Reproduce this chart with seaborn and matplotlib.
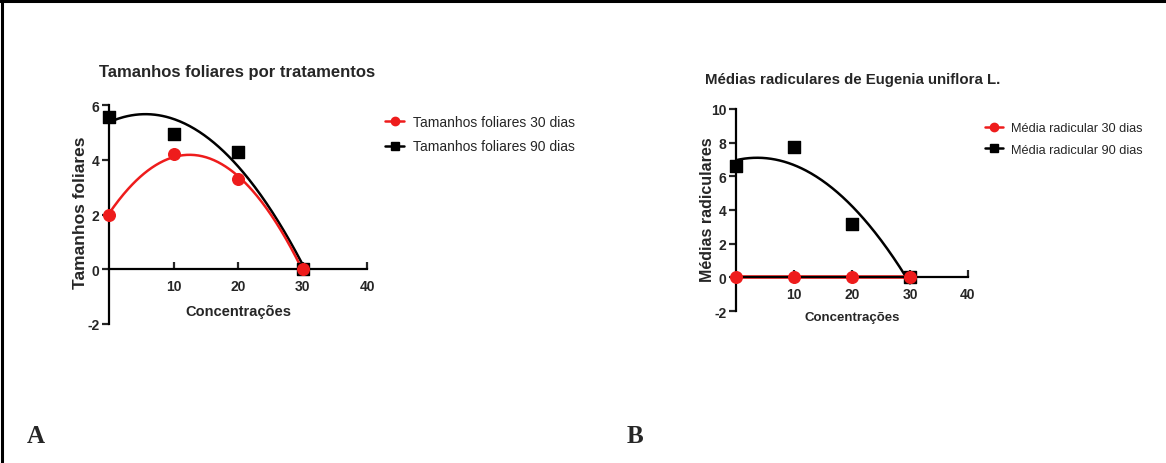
import numpy as np
import pandas as pd
import matplotlib
matplotlib.use("Agg")
import matplotlib.pyplot as plt
from matplotlib.lines import Line2D
import seaborn as sns

# dados
conc = [0, 10, 20, 30]
folha_30 = [2.0, 4.2, 3.3, 0.0]
folha_90 = [5.55, 4.95, 4.3, 0.0]
raiz_30 = [0.0, 0.0, 0.0, 0.0]
raiz_90 = [6.6, 7.75, 3.15, 0.0]

sns.set_style("white")
plt.rcParams["font.family"] = ["Liberation Sans", "DejaVu Sans"]
plt.rcParams["axes.unicode_minus"] = False

VERM = "#ee1c1c"
PRETO = "#000000"

fig = plt.figure(figsize=(11.66, 4.64), dpi=100)
W, H = 1166, 464


def eixo(l, r, t, b):
    return fig.add_axes([l / W, (H - b) / H, (r - l) / W, (b - t) / H])


def ajuste(x, y):
    # curva polinomial de 2o grau (como no Prism)
    c = np.polyfit(x, y, 2)
    xs = np.linspace(0, 30, 200)
    return pd.DataFrame({"x": xs, "y": np.polyval(c, xs)})


def painel(ax, y30, y90, ymin, ymax, ystep, lw30=1.8):
    f90 = ajuste(conc, y90)
    f30 = ajuste(conc, y30)
    sns.lineplot(data=f90, x="x", y="y", ax=ax, color=PRETO, lw=1.8)
    sns.lineplot(data=f30, x="x", y="y", ax=ax, color=VERM, lw=lw30)
    ax.scatter(conc, y90, marker="s", s=70, color=PRETO, zorder=3, clip_on=False)
    ax.scatter(conc, y30, marker="o", s=70, color=VERM, zorder=4, clip_on=False)
    ax.set_xlim(0, 40)
    ax.set_ylim(ymin, ymax)
    ax.set_xticks([10, 20, 30, 40])
    ax.set_yticks(np.arange(ymin, ymax + 0.1, ystep))
    for s in ["top", "right"]:
        ax.spines[s].set_visible(False)
    ax.spines["bottom"].set_position(("data", 0))
    for s in ["left", "bottom"]:
        ax.spines[s].set_linewidth(1.6)
        ax.spines[s].set_color("black")
    ax.tick_params(axis="y", direction="out", length=5, width=1.6, left=True, pad=2)
    ax.tick_params(axis="x", direction="in", length=5, width=1.6, bottom=True, pad=7)
    for lab in ax.get_xticklabels() + ax.get_yticklabels():
        lab.set_fontweight("bold")
        lab.set_fontsize(10)
    ax.set_facecolor("none")


# painel A
axA = eixo(109, 367, 106, 325)
painel(axA, folha_30, folha_90, -2, 6, 2)
axA.set_xlabel("Concentrações", fontsize=10.5, fontweight="bold", va="center")
axA.xaxis.set_label_coords(0.5, 0.059)
axA.set_ylabel("Tamanhos foliares", fontsize=12.5, fontweight="bold", va="center")
axA.yaxis.set_label_coords(-0.112, 0.511)
fig.text(237 / W, 1 - 73 / H, "Tamanhos foliares por tratamentos",
         fontsize=12, fontweight="bold", ha="center", va="center")

# painel B
axB = eixo(736, 968, 110, 312)
painel(axB, raiz_30, raiz_90, -2, 10, 2, lw30=2.6)
axB.set_xlabel("Concentrações", fontsize=9.5, fontweight="bold", va="center")
axB.xaxis.set_label_coords(0.5, -0.03)
axB.set_ylabel("Médias radiculares", fontsize=11.5, fontweight="bold", va="center")
axB.yaxis.set_label_coords(-0.121, 0.505)
fig.text(705 / W, 1 - 80 / H, "Médias radiculares de Eugenia uniflora L.",
         fontsize=10.8, fontweight="bold", ha="left", va="center")


# legendas
def legenda(rotulos, x, y, fs):
    h = [Line2D([], [], color=VERM, marker="o", ms=6, lw=1.8),
         Line2D([], [], color=PRETO, marker="s", ms=6, lw=1.8)]
    fig.legend(h, rotulos, loc="upper left", bbox_to_anchor=(x / W, 1 - y / H),
               frameon=False, fontsize=fs, handlelength=1.4, handletextpad=0.6,
               labelspacing=0.75, borderpad=0, borderaxespad=0)


legenda(["Tamanhos foliares 30 dias", "Tamanhos foliares 90 dias"], 385, 116, 10)
legenda(["Média radicular 30 dias", "Média radicular 90 dias"], 985, 123, 9.2)

# letras dos painéis
fig.text(27 / W, 1 - 437 / H, "A", fontsize=18, fontweight="bold",
         family="Liberation Serif", ha="left", va="center")
fig.text(627 / W, 1 - 437 / H, "B", fontsize=18, fontweight="bold",
         family="Liberation Serif", ha="left", va="center")

# moldura (só topo e esquerda aparecem)
fig.add_artist(Line2D([0, 1], [1 - 2 / H, 1 - 2 / H], color="black", lw=2.2))
fig.add_artist(Line2D([2 / W, 2 / W], [0, 1], color="black", lw=2.2))

fig.savefig("out.png", dpi=100)
